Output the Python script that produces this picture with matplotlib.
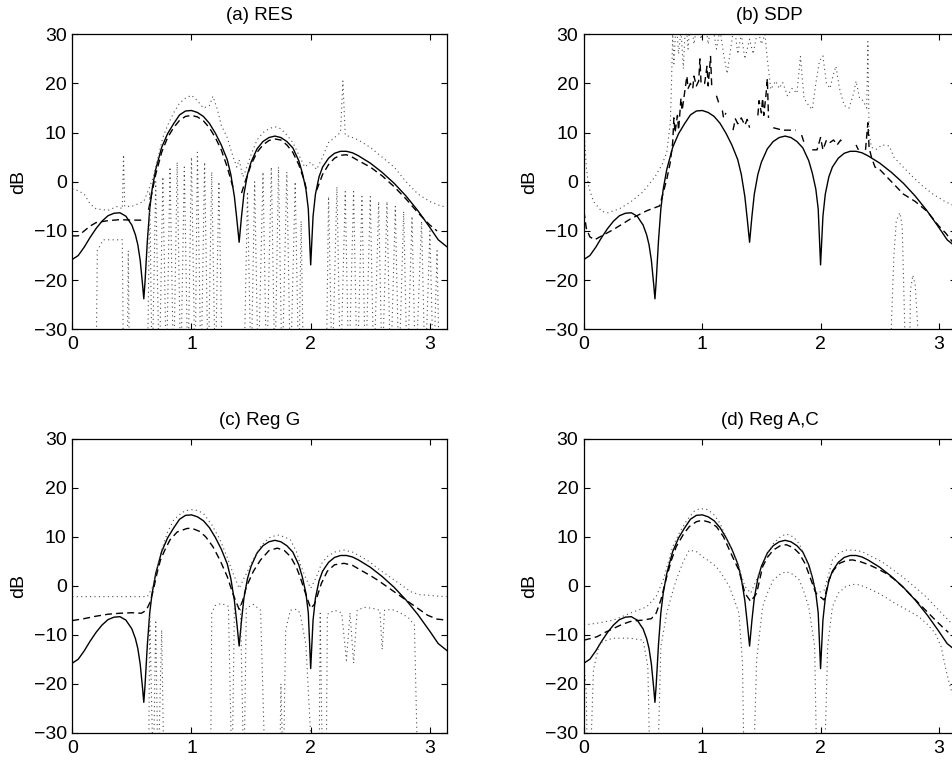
import numpy as np
import matplotlib
matplotlib.use('Agg')
import matplotlib.pyplot as plt

plt.rcParams['font.family'] = ['Liberation Sans', 'DejaVu Sans']
plt.rcParams['font.size'] = 14

nan = np.nan

# true spectrum (solid), same in all panels
true_x = [0.00, 0.05, 0.10, 0.15, 0.20, 0.25, 0.30, 0.35, 0.40, 0.45, 0.50, 0.53, 0.55, 0.57, 0.59, 0.60,
          0.61, 0.63, 0.65, 0.67, 0.70, 0.75, 0.80, 0.85, 0.90, 0.95, 1.00, 1.05, 1.10, 1.15, 1.20, 1.25,
          1.30, 1.33, 1.36, 1.38, 1.40, 1.42, 1.44, 1.47, 1.50, 1.55, 1.60, 1.65, 1.70, 1.75, 1.80, 1.85,
          1.90, 1.93, 1.96, 1.98, 2.00, 2.02, 2.04, 2.07, 2.10, 2.15, 2.20, 2.25, 2.30, 2.35, 2.40, 2.50,
          2.60, 2.70, 2.80, 2.90, 3.00, 3.07, 3.1416]
true_db = [-15.8, -15.0, -13.3, -11.3, -9.5, -8.0, -6.9, -6.4, -6.3, -7.0, -8.8, -10.8, -12.8, -16.0, -21.0, -23.8,
           -20.5, -12.0, -5.5, -1.5, 2.5, 7.0, 9.8, 11.8, 13.6, 14.4, 14.5, 14.1, 13.3, 11.9, 9.9, 7.5,
           4.5, 1.5, -3.0, -7.5, -12.3, -7.0, -2.5, 1.5, 4.0, 6.7, 8.2, 9.0, 9.3, 9.0, 8.2, 6.9,
           4.3, 1.8, -1.5, -5.5, -16.9, -7.0, -2.5, 1.0, 3.0, 4.8, 5.8, 6.2, 6.2, 5.9, 5.3, 3.8,
           1.9, -0.3, -2.9, -5.9, -9.3, -11.8, -13.2]

# (a) RES
est_a_x = [0.00, 0.05, 0.10, 0.15, 0.20, 0.30, 0.40, 0.50, 0.58, nan,
           0.64, 0.67, 0.70, 0.75, 0.80, 0.85, 0.90, 0.95, 1.00, 1.05, 1.10, 1.15, 1.20, 1.25, 1.30, 1.35, nan,
           1.42, 1.45, 1.50, 1.55, 1.60, 1.65, 1.70, 1.75, 1.80, 1.85, 1.90, 1.95, 1.97, nan,
           2.05, 2.10, 2.15, 2.20, 2.25, 2.30, 2.35, 2.40, 2.50, 2.60, 2.70, 2.80, 2.90, 3.00, 3.06]
est_a_db = [-11.0, -11.0, -10.0, -9.0, -8.3, -7.9, -7.7, -7.8, -7.8, nan,
            -5.7, -2.0, 1.5, 6.0, 9.0, 11.0, 12.5, 13.3, 13.5, 13.2, 12.4, 11.0, 9.0, 6.5, 3.0, -1.3, nan,
            -2.3, 0.0, 3.5, 6.0, 7.5, 8.4, 8.7, 8.5, 7.5, 6.0, 3.5, 0.0, -2.3, nan,
            -1.7, 1.5, 3.5, 4.8, 5.4, 5.5, 5.0, 4.3, 3.0, 1.2, -1.0, -3.5, -6.3, -8.8, -10.0]
up_a_x = [0.00, 0.05, 0.10, 0.15, 0.20, 0.30, 0.38, 0.42, 0.43, 0.44, 0.50, 0.55, 0.60, 0.65, 0.68, 0.72,
          0.76, 0.80, 0.85, 0.90, 0.95, 1.00, 1.05, 1.10, 1.15, 1.18, 1.22, 1.25, 1.30, 1.35, 1.38, 1.40,
          1.43, 1.45, 1.50, 1.55, 1.60, 1.65, 1.70, 1.75, 1.80, 1.85, 1.90, 1.95, 2.00, 2.05, 2.10, 2.15,
          2.20, 2.25, 2.27, 2.29, 2.35, 2.40, 2.50, 2.60, 2.70, 2.80, 2.90, 3.00, 3.10, 3.14]
up_a_db = [-1.5, -1.8, -2.5, -4.5, -5.5, -5.8, -5.0, -5.5, 5.5, -5.0, -5.0, -4.5, -4.0, -1.0, 1.0, 5.0,
           9.0, 11.5, 14.0, 16.0, 17.0, 17.6, 16.5, 15.0, 15.5, 17.4, 14.5, 11.5, 9.0, 5.0, 3.0, 4.5,
           1.0, 2.0, 5.5, 8.5, 10.0, 10.8, 11.2, 10.8, 9.5, 8.0, 5.5, 3.0, 4.0, 2.5, 5.0, 8.0,
           9.0, 10.0, 20.5, 9.5, 9.0, 8.5, 7.0, 5.0, 3.0, 0.0, -2.5, -4.0, -5.0, -5.0]
lo_a_x = [0.00, 0.20, 0.21, 0.26, 0.42, 0.43, 0.46, 0.47, 0.48,
          0.63, 0.65, 0.67, 0.70, 0.73, 0.76, 0.79, 0.82, 0.85, 0.88, 0.91, 0.94, 0.97, 1.00, 1.03,
          1.05, 1.08, 1.11, 1.14, 1.17, 1.20, 1.23, 1.26,
          1.44, 1.47, 1.50, 1.53, 1.56, 1.60, 1.63, 1.67, 1.70, 1.73, 1.76, 1.80, 1.83, 1.87, 1.90,
          1.92, 1.94,
          2.13, 2.15, 2.18, 2.22, 2.25, 2.29, 2.32, 2.36, 2.39, 2.43, 2.46, 2.50, 2.53, 2.57, 2.60,
          2.64, 2.67, 2.71, 2.74, 2.78, 2.81, 2.85, 2.88, 2.93, 2.96, 3.00, 3.03, 3.06, 3.08]
lo_a_db = [-40, -40, -14.0, -11.8, -11.8, -40, -40, -14.0, -40,
           -40, -2.0, -40, 0.0, -40, 1.0, -40, 3.0, -40, 4.0, -40, 3.0, -40, 5.0, -40,
           6.0, -40, 4.0, -40, 2.0, -40, 0.0, -40,
           -40, -2.0, -40, 0.0, -40, 2.0, -40, 3.0, -40, 3.0, -40, 2.0, -40, 0.0, -40,
           -8.0, -40,
           -40, -3.0, -40, -1.0, -40, -2.0, -40, -2.0, -40, -3.0, -40, -3.0, -40, -4.0, -40,
           -4.0, -40, -5.0, -40, -6.0, -40, -7.0, -40, -8.0, -40, -10.0, -40, -14.0, -40]

# (b) SDP
est_b_x = [0.00, 0.02, 0.05, 0.09, 0.15, 0.25, 0.39, 0.53, 0.64, 0.67, 0.70, 0.73, 0.75, 0.76, 0.77,
           0.79, 0.80, 0.82, 0.83, 0.85, 0.87, 0.88, 0.90, 0.92, 0.93, 0.95, 0.97, 0.98, 0.99, 1.02,
           1.04, 1.05, 1.07, 1.08, nan, 1.12, 1.14, nan, 1.17, 1.18, 1.20, nan,
           1.26, 1.28, 1.30, 1.33, 1.36, 1.38, 1.40, nan,
           1.47, 1.48, 1.50, 1.51, 1.52, 1.54, 1.55, 1.56, nan, 1.60, 1.68, 1.79, nan, 1.84, 1.86, nan,
           1.93, 1.97, 2.00, 2.02, 2.05, 2.08, 2.11, 2.14, 2.17, 2.19, nan, 2.30, 2.32, nan,
           2.38, 2.40, 2.41, 2.43, 2.46, 2.50, 2.60, 2.70, 2.80, 2.90, 3.00, 3.06, 3.14]
est_b_db = [-6.0, -9.5, -11.2, -11.8, -11.0, -9.7, -7.6, -5.9, -4.9, -2.2, 0.5, 4.0, 8.0, 13.0, 10.0,
            13.5, 10.5, 17.0, 14.5, 18.0, 21.5, 19.0, 20.0, 19.0, 21.5, 19.5, 20.5, 25.0, 20.0, 20.0,
            23.5, 19.5, 25.5, 19.5, nan, 17.5, 16.0, nan, 14.5, 13.0, 14.0, nan,
            10.5, 12.8, 11.8, 13.0, 11.5, 12.7, 11.0, nan,
            13.5, 16.5, 14.0, 17.0, 13.5, 18.0, 21.0, 13.0, nan, 11.0, 10.5, 10.5, nan, 9.5, 8.0, nan,
            6.5, 6.5, 9.0, 6.5, 8.5, 8.0, 8.5, 7.5, 8.5, 7.5, nan, 7.5, 6.5, nan,
            6.5, 12.0, 7.0, 5.0, 3.0, 2.5, 0.0, -2.5, -4.0, -6.0, -9.0, -10.5, -13.0]
up_b_x = [0.00, 0.02, 0.04, 0.08, 0.15, 0.20, 0.30, 0.40, 0.50, 0.60, 0.66, 0.70, 0.73, 0.74, 0.75,
          0.76, 0.78, 0.80, 0.82, 0.84, 0.86, 0.88, 0.90, 0.93, 0.96, 0.99, 1.02, 1.05, 1.08, 1.12,
          1.15, 1.18, 1.21, 1.24, 1.27, 1.30, 1.33, 1.36, 1.40, 1.43, 1.47, 1.50, 1.53, 1.55, 1.58,
          1.62, 1.65, 1.68, 1.72, 1.76, 1.80, 1.83, 1.86, 1.90, 1.93, 1.96, 1.99, 2.02, 2.05, 2.08,
          2.11, 2.13, 2.16, 2.20, 2.24, 2.28, 2.30, 2.33, 2.36, 2.39, 2.40, 2.41, 2.43, 2.47, 2.52,
          2.58, 2.62, 2.69, 2.78, 2.86, 2.95, 3.05, 3.14]
up_b_db = [11.0, 3.0, -1.0, -4.0, -6.0, -6.3, -5.5, -4.0, -2.0, 1.0, 3.5, 6.0, 12.0, 20.0, 30.0,
           24.0, 33.0, 26.0, 31.0, 23.0, 33.0, 27.0, 34.0, 28.0, 33.0, 29.0, 34.0, 28.0, 33.0, 27.0,
           31.0, 26.0, 22.0, 27.0, 32.0, 26.0, 30.0, 25.0, 29.0, 26.0, 31.0, 28.0, 30.0, 25.0, 18.8,
           20.5, 19.0, 20.2, 17.5, 19.0, 18.0, 25.5, 17.0, 15.5, 14.7, 20.0, 24.5, 25.6, 20.0, 19.0,
           22.0, 23.5, 19.0, 15.5, 15.0, 18.0, 20.5, 17.0, 16.5, 15.0, 28.5, 10.0, 7.0, 6.6, 7.5,
           7.3, 5.0, 3.2, 1.0, -0.8, -2.5, -4.0, -5.0]
lo_b_x = [0.00, 2.59, 2.60, 2.62, 2.64, 2.67, 2.69, 2.71, 2.72, 2.75, 2.76, 2.78, 2.80, 2.82, 2.83, 3.14]
lo_b_db = [-40, -40, -28.0, -15.0, -8.0, -6.3, -9.0, -28.0, -40, -40, -22.0, -19.0, -21.0, -29.0, -40, -40]

# (c) Reg G
est_c_x = [0.00, 0.10, 0.20, 0.30, 0.40, 0.50, 0.58, 0.62, 0.65, 0.68, 0.71, 0.74, 0.78, 0.82, 0.88,
           0.96, 1.00, 1.07, 1.12, 1.18, 1.24, 1.30, 1.35, 1.40, 1.43, 1.46, 1.52, 1.58, 1.65, 1.72,
           1.78, 1.83, 1.88, 1.91, 1.96, 2.00, 2.03, 2.05, 2.09, 2.14, 2.20, 2.28, 2.35, 2.42, 2.50,
           2.56, 2.63, 2.70, 2.77, 2.84, 2.91, 2.98, 3.06, 3.14]
est_c_db = [-7.1, -6.7, -6.2, -5.8, -5.6, -5.5, -5.6, -5.0, -3.5, -0.9, 2.5, 5.3, 7.5, 9.4, 11.0,
            11.7, 11.8, 11.1, 10.0, 8.0, 5.2, 1.9, -1.8, -4.8, -3.0, -0.2, 3.0, 5.3, 7.2, 7.7,
            7.2, 6.0, 3.8, 1.9, -1.8, -4.6, -3.8, -2.5, 0.5, 3.0, 4.3, 4.6, 4.2, 3.2, 2.1,
            1.2, 0.0, -1.2, -2.4, -3.6, -4.8, -6.0, -6.8, -7.0]
up_c_x = [0.00, 0.30, 0.63, 0.68, 0.74, 0.80, 0.85, 0.92, 0.99, 1.05, 1.10, 1.17, 1.24, 1.30, 1.35,
          1.40, 1.46, 1.52, 1.58, 1.65, 1.72, 1.78, 1.83, 1.88, 1.91, 1.96, 2.00, 2.05, 2.09, 2.14,
          2.20, 2.28, 2.35, 2.42, 2.50, 2.56, 2.63, 2.70, 2.77, 2.84, 2.91, 2.98, 3.06, 3.14]
up_c_db = [-2.2, -2.2, -2.2, 0.0, 6.6, 11.0, 13.4, 15.0, 15.6, 15.4, 14.8, 12.5, 9.4, 5.8, 2.5,
           -0.5, 2.5, 5.5, 8.0, 9.8, 10.4, 10.0, 9.4, 7.0, 4.6, 1.5, -0.5, 1.9, 4.5, 6.0,
           6.9, 7.3, 6.9, 6.0, 4.8, 3.6, 2.4, 1.2, 0.0, -1.2, -1.8, -1.9, -2.1, -2.2]
lo_c_x = [0.00, 0.64, 0.65, 0.68, 0.70, 0.72, 0.75, 0.77, 1.16, 1.17, 1.20, 1.25, 1.31, 1.34, 1.36,
          1.41, 1.44, 1.46, 1.52, 1.58, 1.62, 1.74, 1.75, 1.77, 1.79, 1.83, 1.88, 1.91, 1.96, 2.02,
          2.07, 2.08, 2.10, 2.13, 2.14, 2.20, 2.26, 2.30, 2.33, 2.36, 2.39, 2.45, 2.52, 2.58, 2.60,
          2.62, 2.68, 2.75, 2.82, 2.87, 2.90, 3.14]
lo_c_db = [-40, -40, -6.0, -40, -7.0, -40, -9.0, -40, -40, -5.5, -4.0, -3.6, -4.2, -40, -4.5,
           -3.8, -40, -4.5, -3.8, -5.0, -40, -40, -20.0, -40, -9.0, -5.0, -4.8, -5.5, -12.0, -40,
           -40, -5.6, -40, -40, -5.8, -5.0, -5.5, -15.2, -5.5, -15.8, -5.0, -4.4, -4.6, -5.0, -13.0,
           -5.0, -4.8, -5.5, -6.5, -8.0, -40, -40]

# (d) Reg A,C
est_d_x = [0.00, 0.05, 0.11, 0.18, 0.25, 0.32, 0.39, 0.45, 0.50, 0.57, 0.61, 0.65, 0.70, 0.74, 0.78,
           0.84, 0.89, 0.95, 1.00, 1.06, 1.12, 1.18, 1.23, 1.27, 1.31, 1.36, 1.41, 1.46, 1.51, 1.55,
           1.60, 1.66, 1.71, 1.77, 1.82, 1.87, 1.90, 1.96, 2.03, 2.07, 2.11, 2.16, 2.22, 2.27, 2.34,
           2.41, 2.48, 2.55, 2.62, 2.69, 2.78, 2.86, 2.95, 3.03, 3.08]
est_d_db = [-11.1, -10.8, -10.4, -9.5, -8.7, -7.9, -7.3, -7.1, -7.0, -6.7, -5.6, -2.9, 1.9, 5.3, 8.0,
            10.5, 12.1, 13.1, 13.4, 13.0, 12.1, 10.0, 7.3, 5.2, 3.2, -1.5, -3.2, -1.5, 3.9, 5.8,
            7.3, 8.2, 8.4, 7.8, 6.6, 4.5, 2.5, -1.5, -2.9, 1.2, 3.2, 4.6, 5.2, 5.3, 4.9,
            4.3, 3.5, 2.6, 1.4, -0.1, -2.3, -4.3, -6.5, -8.4, -9.5]
up_d_x = [0.00, 0.12, 0.25, 0.39, 0.53, 0.61, 0.67, 0.75, 0.81, 0.87, 0.93, 0.98, 1.04, 1.09, 1.15,
          1.20, 1.25, 1.30, 1.36, 1.41, 1.48, 1.54, 1.60, 1.66, 1.71, 1.77, 1.82, 1.87, 1.92, 1.97,
          2.03, 2.07, 2.10, 2.15, 2.21, 2.28, 2.35, 2.43, 2.52, 2.60, 2.69, 2.79, 2.89, 2.98, 3.08, 3.14]
up_d_db = [-8.0, -7.6, -7.0, -5.6, -4.3, -2.2, 1.2, 8.0, 11.0, 13.4, 15.2, 15.8, 15.6, 14.8, 12.8,
           10.0, 7.5, 4.6, -0.1, -1.5, 2.5, 6.0, 8.6, 10.0, 10.6, 10.0, 8.6, 5.8, 2.5, -1.5,
           -0.9, 2.5, 5.3, 6.6, 7.3, 7.3, 7.0, 6.0, 4.9, 3.5, 1.9, -0.1, -2.2, -4.5, -7.0, -8.5]
lo_d_x = [0.00, 0.02, 0.03, 0.05, 0.08, 0.13, 0.20, 0.25, 0.39, 0.50, 0.54, 0.56, 0.62, 0.65, 0.70,
          0.74, 0.78, 0.84, 0.89, 0.95, 1.00, 1.06, 1.12, 1.18, 1.23, 1.27, 1.31, 1.34, 1.355, 1.43,
          1.46, 1.51, 1.55, 1.60, 1.66, 1.71, 1.77, 1.82, 1.86, 1.90, 1.95, 1.97, 2.03, 2.06, 2.10,
          2.15, 2.21, 2.27, 2.33, 2.41, 2.49, 2.56, 2.63, 2.73, 2.83, 2.90, 2.97, 3.02, 3.06, 3.10, 3.14]
lo_d_db = [-15.5, -22.0, -40, -40, -17.2, -11.8, -11.0, -10.7, -10.7, -11.1, -16.5, -40, -40, -12.4, -5.6,
           -2.0, 1.2, 5.0, 7.3, 7.0, 6.0, 5.0, 3.9, 1.8, -0.2, -2.8, -5.6, -15.8, -40, -40,
           -15.0, -4.3, -1.5, 1.2, 2.4, 2.9, 2.3, 1.2, -1.3, -4.3, -12.4, -40, -40, -12.4, -4.3,
           -1.5, -0.2, 0.3, 0.2, -0.6, -1.5, -2.5, -3.6, -4.9, -6.3, -7.8, -9.7, -12.5, -17.2, -21.0, -24.0]

panels = [
    ('(a) RES', est_a_x, est_a_db, up_a_x, up_a_db, lo_a_x, lo_a_db),
    ('(b) SDP', est_b_x, est_b_db, up_b_x, up_b_db, lo_b_x, lo_b_db),
    ('(c) Reg G', est_c_x, est_c_db, up_c_x, up_c_db, lo_c_x, lo_c_db),
    ('(d) Reg A,C', est_d_x, est_d_db, up_d_x, up_d_db, lo_d_x, lo_d_db),
]

fig = plt.figure(figsize=(9.52, 7.64), dpi=100)
boxes = [
    [0.0759, 0.5690, 0.3934, 0.3861],
    [0.6134, 0.5690, 0.3904, 0.3861],
    [0.0759, 0.0410, 0.3934, 0.3844],
    [0.6134, 0.0410, 0.3904, 0.3844],
]

for box, (title, ex, ey, ux, uy, lx, ly) in zip(boxes, panels):
    ax = fig.add_axes(box)
    ax.plot(true_x, true_db, color='black', lw=1.0)
    ax.plot(ex, ey, color='black', lw=1.0, linestyle=(0, (5, 3)))
    ax.plot(ux, uy, color='0.3', lw=0.8, linestyle=(0, (1, 3)))
    ax.plot(lx, ly, color='0.3', lw=0.8, linestyle=(0, (1, 3)))
    ax.set_xlim(0, np.pi)
    ax.set_ylim(-30, 30)
    ax.set_xticks([0, 1, 2, 3])
    ax.set_yticks([-30, -20, -10, 0, 10, 20, 30])
    ax.tick_params(direction='in', top=True, right=True, length=4, width=0.8)
    ax.tick_params(axis='x', pad=5)
    ax.tick_params(axis='y', pad=4)
    ax.set_title(title, fontsize=13.5, pad=10)
    ax.set_ylabel('dB', labelpad=5)
    for s in ax.spines.values():
        s.set_linewidth(0.9)

fig.savefig('out.png', dpi=100)
